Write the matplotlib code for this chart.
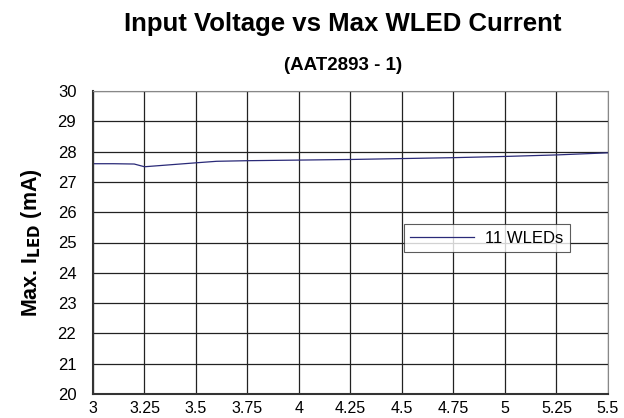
import matplotlib
matplotlib.use("Agg")
import matplotlib.pyplot as plt

plt.rcParams['font.family'] = ['Liberation Sans', 'DejaVu Sans']

# Input voltage (V) and maximum WLED current (mA)
vin = [3.0, 3.1, 3.2, 3.25, 3.5, 3.6, 3.75, 4.0, 4.25, 4.5, 4.75, 5.0, 5.25, 5.5]
iled = [27.6, 27.6, 27.59, 27.5, 27.63, 27.68, 27.7, 27.72, 27.74, 27.77, 27.8, 27.84, 27.89, 27.96]

xticks = [3, 3.25, 3.5, 3.75, 4, 4.25, 4.5, 4.75, 5, 5.25, 5.5]
xticklabels = ['3', '3.25', '3.5', '3.75', '4', '4.25', '4.5', '4.75', '5', '5.25', '5.5']
yticks = list(range(20, 31))

fig = plt.figure(figsize=(6.24, 4.18), dpi=100)
ax = fig.add_axes([93/624, 1 - 394/418, 515/624, 303/418])

ax.plot(vin, iled, color='#2a2a78', lw=0.9, label='11 WLEDs')

ax.set_xlim(3, 5.5)
ax.set_ylim(20, 30)
ax.set_xticks(xticks)
ax.set_xticklabels(xticklabels)
ax.set_yticks(yticks)
ax.grid(True, color='#222222', lw=0.9)
ax.tick_params(axis='x', length=0, labelsize=11.5, pad=5)
ax.tick_params(axis='y', length=0, labelsize=12, pad=12)
for side in ['top', 'right']:
    ax.spines[side].set_color('#888888')
for side in ['left', 'bottom']:
    ax.spines[side].set_color('#333333')
    ax.spines[side].set_linewidth(1.5)

ax.set_ylabel(r'Max. I$_{\mathbf{LED}}$ (mA)', fontsize=15.5, fontweight='bold', labelpad=10)

fig.text(343/624, 1 - 24/418, 'Input Voltage vs Max WLED Current',
         ha='center', va='center', fontsize=18.5, fontweight='bold')
fig.text(343/624, 1 - 66/418, '(AAT2893 - 1)',
         ha='center', va='center', fontsize=13.5, fontweight='bold')

leg = ax.legend(loc='center', bbox_to_anchor=((487-93)/515, (394-238)/303),
                fontsize=12, frameon=True, fancybox=False, edgecolor='#333333',
                handlelength=3.8, borderpad=0.4, handletextpad=0.7, borderaxespad=0)
leg.get_frame().set_linewidth(0.8)

fig.savefig('out.png', dpi=100)
